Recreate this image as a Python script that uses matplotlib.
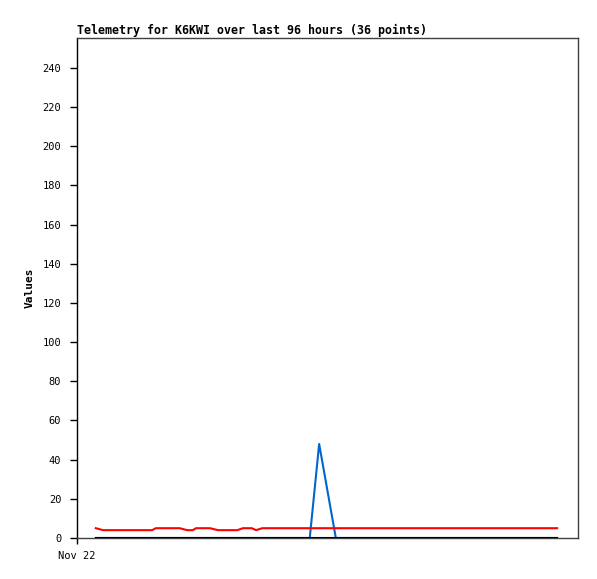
import matplotlib
matplotlib.use("Agg")
import matplotlib.pyplot as plt

# hours since Nov 22 00:00
hours = [3.6, 5.0, 8.0, 11.0, 14.4, 15.1, 17.5, 19.7, 21.1, 22.2, 22.8, 25.5,
         27.0, 29.0, 30.7, 31.8, 33.5, 34.3, 35.5, 40.0, 44.6, 46.4, 49.6, 53.0,
         57.0, 61.0, 65.0, 68.0, 71.0, 74.0, 77.0, 80.0, 83.0, 86.0, 89.0, 92.0]
red_vals = [5, 4, 4, 4, 4, 5, 5, 5, 4, 4, 5, 5,
            4, 4, 4, 5, 5, 4, 5, 5, 5, 5, 5, 5,
            5, 5, 5, 5, 5, 5, 5, 5, 5, 5, 5, 5]
blue_vals = [0] * 21 + [48] + [0] * 14
black_vals = [0] * 36

yticks = list(range(0, 241, 20))
title = "Telemetry for K6KWI over last 96 hours (36 points)"

mono = ["DejaVu Sans Mono"]

fig = plt.figure(figsize=(5.97, 5.79), dpi=100)
ax = fig.add_axes([77 / 597, 41 / 579, 501 / 597, 500 / 579])

ax.plot(hours, blue_vals, color="#0066cc", lw=1.5, zorder=2)
ax.plot(hours, red_vals, color="#ff0000", lw=1.5, zorder=3)
ax.plot(hours, black_vals, color="#000000", lw=1.5, zorder=4)

ax.set_xlim(0, 96)
ax.set_ylim(0, 255.3)
ax.set_yticks(yticks)
ax.set_yticklabels([str(v) for v in yticks], family=mono, fontsize=7.5)
ax.set_xticks([0])
ax.set_xticklabels(["Nov 22"], family=mono, fontsize=7.5)
ax.tick_params(axis="y", length=5, width=1, pad=6.3, color="black")
ax.tick_params(axis="x", length=4.3, width=1, pad=5, color="black")

for s in ax.spines.values():
    s.set_color("#404040")
    s.set_linewidth(1)
ax.spines["left"].set_color("black")

ax.set_ylabel("Values", family=mono, fontsize=8, fontweight="bold", labelpad=5.5)
ax.set_title(title, family=mono, fontsize=8.4, fontweight="bold", loc="left", pad=3)

fig.savefig("out.png", dpi=100)
